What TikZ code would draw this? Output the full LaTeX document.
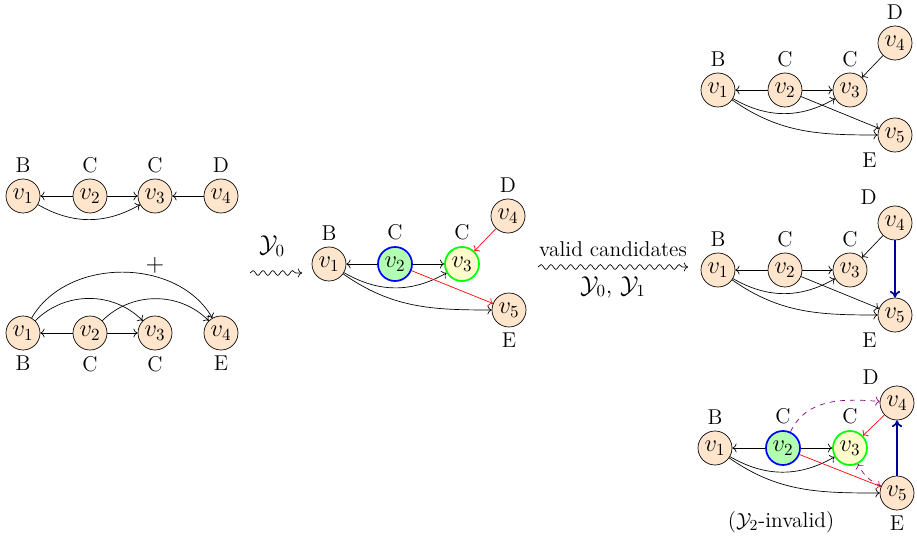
\documentclass[tikz,border=0pt]{standalone}
\usetikzlibrary{decorations.pathmorphing,arrows.meta}
\begin{document}
\begin{tikzpicture}[x=0.588pt,y=0.588pt,
  every label/.style={font=\fontsize{12.6}{15}\selectfont},
  txt/.style={font=\fontsize{12.6}{15}\selectfont},
  vtx/.style={circle,draw,fill=orange!20,minimum size=20pt,inner sep=0pt,font=\Large},
  bluev/.style={vtx,draw=blue,fill=green!30,line width=1pt},
  greenv/.style={vtx,draw=green,fill=yellow!20,line width=1pt},
  e/.style={->},
  redE/.style={->,red},
  blueE/.style={-{To[length=4pt,width=6pt]},blue!60!black,line width=1pt},
  purpE/.style={->,violet,dashed},
  wave/.style={->,decorate,decoration={snake,amplitude=1.4pt,segment length=5.8pt,post length=3pt}}
]
\useasboundingbox (0,0) rectangle (917,536);
% ---- left top
\node[vtx,label=above:B] (a1) at (23,340) {$v_1$};
\node[vtx,label=above:C] (a2) at (90,340) {$v_2$};
\node[vtx,label=above:C] (a3) at (155,340) {$v_3$};
\node[vtx,label=above:D] (a4) at (221,340) {$v_4$};
\draw[e] (a2) -- (a1);
\draw[e] (a2) -- (a3);
\draw[e] (a4) -- (a3);
\draw[e] (a1) to[bend right=30] (a3);
% ---- left bottom
\node[font=\Large] (plus) at (155,271) {$+$};
\node[vtx,label=below:B] (b1) at (23,203) {$v_1$};
\node[vtx,label=below:C] (b2) at (90,203) {$v_2$};
\node[vtx,label=below:C] (b3) at (155,203) {$v_3$};
\node[vtx,label=below:E] (b4) at (221,203) {$v_4$};
\draw[e] (b2) -- (b1);
\draw[e] (b2) -- (b3);
\draw[e] (b1) to[bend left=45] (b3);
\draw[e] (b2) to[bend left=45] (b4);
\draw[e] (b1) to[out=60,in=120] (b4);
% ---- first wavy arrow
\coordinate (w1s) at (250,263);
\coordinate (w1e) at (302,263);
\draw[wave] (w1s) -- (w1e);
\node[font=\Large] (y0) at (272,290) {$\mathcal{Y}_0$};
% ---- middle graph
\node[vtx,label=above:B] (c1) at (329,272) {$v_1$};
\node[bluev,label=above:C] (c2) at (395,272) {$v_2$};
\node[greenv,label=above:C] (c3) at (462,272) {$v_3$};
\node[vtx,label=above:D] (c4) at (508,320) {$v_4$};
\node[vtx,label=below:E] (c5) at (509,226) {$v_5$};
\draw[e] (c2) -- (c1);
\draw[e] (c2) -- (c3);
\draw[e] (c1) to[bend right=30] (c3);
\draw[e] (c1) to[out=-35,in=180] (c5);
\draw[redE] (c2) -- (c5);
\draw[redE] (c4) -- (c3);
% ---- second wavy arrow
\coordinate (w2s) at (538,269);
\coordinate (w2e) at (688,269);
\draw[wave] (w2s) -- (w2e);
\node[txt] (vc) at (613,287) {valid candidates};
\node[font=\fontsize{14}{16}\selectfont] (y01) at (613,249) {$\mathcal{Y}_0$, $\mathcal{Y}_1$};
% ---- top right
\node[vtx,label=above:B] (d1) at (718,446) {$v_1$};
\node[vtx,label=above:C] (d2) at (785,446) {$v_2$};
\node[vtx,label=above:C] (d3) at (850,446) {$v_3$};
\node[vtx,label=above:D] (d4) at (895,493) {$v_4$};
\node[vtx,label=below left:E] (d5) at (895,401) {$v_5$};
\draw[e] (d2) -- (d1);
\draw[e] (d2) -- (d3);
\draw[e] (d1) to[bend right=30] (d3);
\draw[e] (d1) to[out=-35,in=180] (d5);
\draw[e] (d2) -- (d5);
\draw[e] (d4) -- (d3);
% ---- middle right
\node[vtx,label=above:B] (f1) at (718,266) {$v_1$};
\node[vtx,label=above:C] (f2) at (785,266) {$v_2$};
\node[vtx,label=above:C] (f3) at (850,266) {$v_3$};
\node[vtx,label=above left:D] (f4) at (895,313) {$v_4$};
\node[vtx,label=below left:E] (f5) at (895,221) {$v_5$};
\draw[e] (f2) -- (f1);
\draw[e] (f2) -- (f3);
\draw[e] (f1) to[bend right=30] (f3);
\draw[e] (f1) to[out=-35,in=180] (f5);
\draw[e] (f2) -- (f5);
\draw[e] (f4) -- (f3);
\draw[blueE] (f4) -- (f5);
% ---- bottom right
\node[vtx,label=above:B] (g1) at (715,88) {$v_1$};
\node[bluev,label=above:C] (g2) at (783,88) {$v_2$};
\node[greenv,label=above:C] (g3) at (850,88) {$v_3$};
\node[vtx,label=above left:D] (g4) at (897,133) {$v_4$};
\node[vtx,label=below:E] (g5) at (897,43) {$v_5$};
\draw[e] (g2) -- (g1);
\draw[e] (g2) -- (g3);
\draw[e] (g1) to[bend right=30] (g3);
\draw[e] (g1) to[out=-35,in=180] (g5);
\draw[redE] (g2) -- (g5);
\draw[redE] (g4) -- (g3);
\draw[blueE] (g5) -- (g4);
\draw[purpE] (g2) to[out=65,in=175] (g4);
\draw[purpE] (g5) to[bend left=20] (g3);
\node[txt] (inv) at (781,14) {($\mathcal{Y}_2$-invalid)};
\end{tikzpicture}
\end{document}
